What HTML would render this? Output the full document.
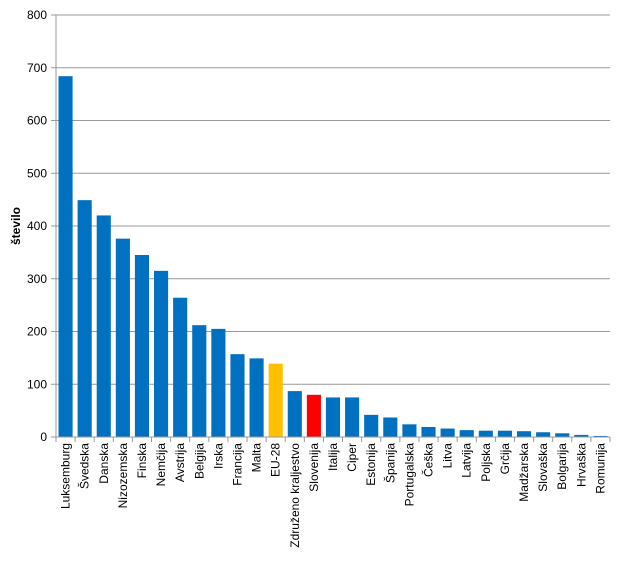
<!DOCTYPE html>
<html><head><meta charset="utf-8"><style>
body{margin:0;background:#fff;font-family:"Liberation Sans",sans-serif;}
</style></head><body>
<svg id="c" width="622" height="565" xmlns="http://www.w3.org/2000/svg"></svg>
<script>
const categories=["Luksemburg","Švedska","Danska","Nizozemska","Finska","Nemčija","Avstrija","Belgija","Irska","Francija","Malta","EU-28","Združeno kraljestvo","Slovenija","Italija","Ciper","Estonija","Španija","Portugalska","Češka","Litva","Latvija","Poljska","Grčija","Madžarska","Slovaška","Bolgarija","Hrvaška","Romunija"];
const values=[684,449,420,376,345,315,264,212,205,157,149,139,87,80,75,75,42,37,24,19,16,13,12,12,11,9,7,4,2];
const yTicks=[0,100,200,300,400,500,600,700,800];
const highlights={"EU-28":"#FFC000","Slovenija":"#FF0000"};
const svg=document.getElementById('c');const NS='http://www.w3.org/2000/svg';
const L=56,R=610,T=15,B=437,MAX=800;
const y=v=>B-(B-T)*v/MAX;const bw=(R-L)/categories.length;const x=i=>L+bw*i;
function el(t,a,p){const e=document.createElementNS(NS,t);for(const k in a)e.setAttribute(k,a[k]);(p||svg).appendChild(e);return e;}
yTicks.forEach(v=>{
 if(v>0){const g=el('line',{x1:L,x2:R,y1:y(v),y2:y(v),stroke:'#999','stroke-width':1});
 
 }
 const tk=el('line',{x1:L-5,x2:L,y1:y(v),y2:y(v),stroke:'#999'});
 
 
 const t=el('text',{x:L-9,y:y(v)+4,'text-anchor':'end','font-size':12,fill:'#000'});t.textContent=v;
 
 
});
values.forEach((v,i)=>{
 const r=el('rect',{x:x(i)+2.5,y:y(v),width:bw-5,height:B-y(v),fill:highlights[categories[i]]||'#0070C0'});
 
 
 const tk=el('line',{x1:x(i),x2:x(i),y1:B,y2:B+5,stroke:'#999'});
 
 
 const cx=x(i)+bw/2+4;
 const t=el('text',{x:cx,y:B+6,'text-anchor':'end','font-size':12,fill:'#000',transform:`rotate(-90 ${cx} ${B+6})`});t.textContent=categories[i];
 
 
});
const tk=el('line',{x1:R,x2:R,y1:B,y2:B+5,stroke:'#999'});
const ax=el('line',{x1:L,x2:L,y1:T,y2:B,stroke:'#999'});


const xa=el('line',{x1:L,x2:R,y1:B,y2:B,stroke:'#999'});


const yt=el('text',{x:20,y:226,'text-anchor':'middle','font-size':12,'font-weight':'bold',transform:'rotate(-90 20 226)'});yt.textContent='število';


</script>
</body></html>
